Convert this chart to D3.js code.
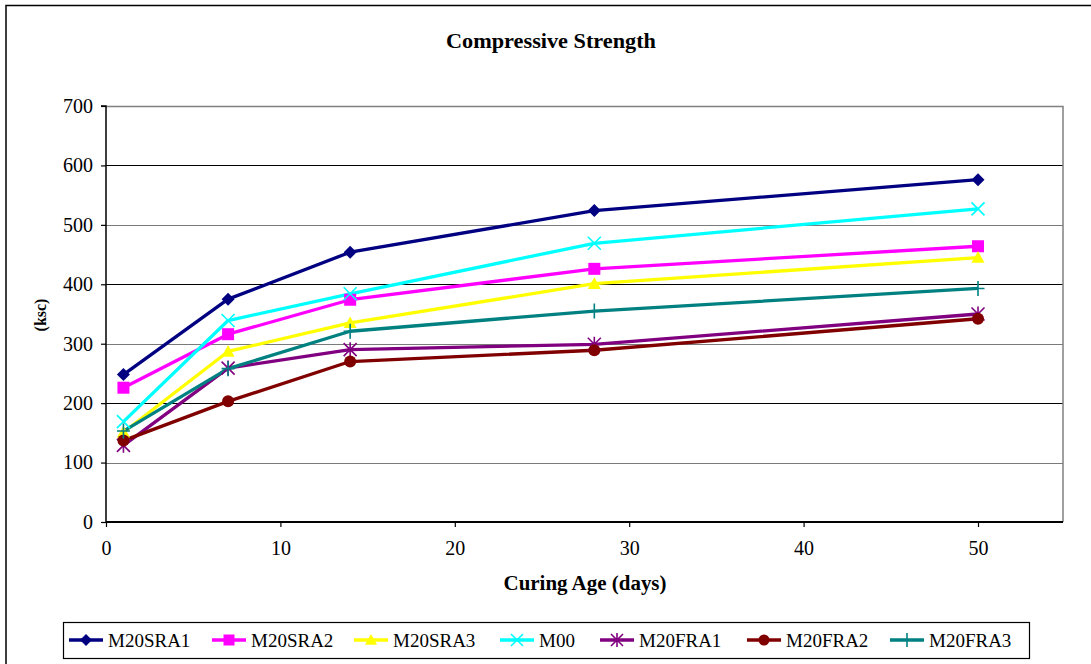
<!DOCTYPE html>
<html>
<head>
<meta charset="utf-8">
<script src="https://cdn.jsdelivr.net/npm/d3@7"></script>
<style>
  html, body { margin: 0; padding: 0; background: #fff; }
  svg { display: block; }
  svg text { font-family: 'Liberation Serif', 'DejaVu Serif', 'Times New Roman', serif; }
</style>
</head>
<body>
<svg id="chart" width="1091" height="664"></svg>
<script>
// Curing ages (days) at which specimens were tested
const ages = [1, 7, 14, 28, 50];

// Compressive strength (ksc) per mix
const seriesNames = ["M20SRA1", "M20SRA2", "M20SRA3", "M00", "M20FRA1", "M20FRA2", "M20FRA3"];
const m20sra1 = [248, 375, 454, 524, 576];
const m20sra2 = [226, 316, 374, 426, 464];
const m20sra3 = [151, 287, 335, 401, 445];
const m00     = [169, 339, 384, 469, 527];
const m20fra1 = [129, 259, 290, 299, 350];
const m20fra2 = [137, 203, 270, 289, 342];
const m20fra3 = [153, 258, 321, 355, 393];

const seriesColors = ["#000080", "#FF00FF", "#FFFF00", "#00FFFF", "#800080", "#800000", "#008080"];
const seriesMarkers = ["diamond", "square", "triangle", "x", "star", "circle", "plus"];

const yTicks = [0, 100, 200, 300, 400, 500, 600, 700];
const xTicks = [0, 10, 20, 30, 40, 50];

const series = [m20sra1, m20sra2, m20sra3, m00, m20fra1, m20fra2, m20fra3].map((vals, i) => ({
  name: seriesNames[i],
  color: seriesColors[i],
  marker: seriesMarkers[i],
  points: vals.map((v, j) => ({ x: ages[j], y: v }))
}));

const svg = d3.select("#chart");

// Outer chart frame
svg.append("path")
  .attr("d", "M6,664 L6,5.5 L1091,5.5")
  .attr("fill", "none").attr("stroke", "#000").attr("stroke-width", 1.5);

const plot = { left: 106, right: 1063, top: 106, bottom: 522 };
const x = d3.scaleLinear().domain([0, 55]).range([plot.left, plot.left + 55 * (978 - 106) / 50]);
const y = d3.scaleLinear().domain([0, 700]).range([plot.bottom, plot.top]);

// Title
svg.append("text")
  .attr("x", 551).attr("y", 48)
  .attr("text-anchor", "middle")
  .attr("font-weight", "bold").attr("font-size", 21)
  .attr("textLength", 210).attr("lengthAdjust", "spacingAndGlyphs")
  .text("Compressive Strength");

// Horizontal gridlines (alternating dark / grey)
svg.append("g").selectAll("line")
  .data(yTicks.filter(t => t > 0 && t < 700))
  .join("line")
  .attr("x1", plot.left).attr("x2", plot.right)
  .attr("y1", d => Math.round(y(d)) + 0.5).attr("y2", d => Math.round(y(d)) + 0.5)
  .attr("stroke", d => (d / 100) % 2 === 0 ? "#000" : "#7a7a7a")
  .attr("stroke-width", 1);

// Plot area top and right border
svg.append("path")
  .attr("d", `M${plot.left},${plot.top + 0.5} L${plot.right},${plot.top + 0.5} L${plot.right},${plot.bottom}`)
  .attr("fill", "none").attr("stroke", "#808080").attr("stroke-width", 1.5);

// Y axis
const yAxis = svg.append("g")
  .attr("transform", `translate(${plot.left},0)`)
  .call(d3.axisLeft(y).tickValues(yTicks).tickSize(5).tickPadding(8).tickFormat(d3.format("d")));
yAxis.attr("font-family", null);
yAxis.select(".domain").attr("stroke", "#000").attr("stroke-width", 1.5).attr("d", `M-5,${plot.top}H0V${plot.bottom}`);
yAxis.selectAll(".tick line").attr("stroke", "#000").attr("stroke-width", 1.2);
yAxis.selectAll(".tick text").attr("font-size", 20).attr("fill", "#000");

// X axis
const xAxis = svg.append("g")
  .attr("transform", `translate(0,${plot.bottom})`)
  .call(d3.axisBottom(x).tickValues(xTicks).tickSize(5).tickPadding(14).tickFormat(d3.format("d")));
xAxis.attr("font-family", null);
xAxis.select(".domain").attr("stroke", "#000").attr("stroke-width", 2).attr("d", `M${plot.left},0H${plot.right}`);
xAxis.selectAll(".tick line").attr("stroke", "#000").attr("stroke-width", 1.2);
xAxis.selectAll(".tick text").attr("font-size", 20).attr("fill", "#000");

// Axis titles
svg.append("text")
  .attr("x", 585).attr("y", 590)
  .attr("text-anchor", "middle")
  .attr("font-weight", "bold").attr("font-size", 20)
  .attr("textLength", 163).attr("lengthAdjust", "spacingAndGlyphs")
  .text("Curing Age (days)");

svg.append("text")
  .attr("transform", "translate(46,315) rotate(-90)")
  .attr("text-anchor", "middle")
  .attr("font-weight", "bold").attr("font-size", 16)
  .text("(ksc)");

// Marker drawing
function drawMarker(g, type, color, s) {
  const h = s / 2;
  switch (type) {
    case "diamond":
      g.append("path").attr("d", `M0,${-h}L${h},0L0,${h}L${-h},0Z`).attr("fill", color);
      break;
    case "square":
      g.append("rect").attr("x", -h + 0.5).attr("y", -h + 0.5).attr("width", s - 1).attr("height", s - 1).attr("fill", color);
      break;
    case "triangle":
      g.append("path").attr("d", `M0,${-h}L${h},${h * 0.8}L${-h},${h * 0.8}Z`).attr("fill", color);
      break;
    case "circle":
      g.append("circle").attr("r", h - 0.5).attr("fill", color);
      break;
    case "x":
      g.append("path").attr("d", `M${-h},${-h}L${h},${h}M${-h},${h}L${h},${-h}`)
        .attr("stroke", color).attr("stroke-width", 1.6);
      break;
    case "star":
      g.append("path").attr("d", `M${-h},${-h}L${h},${h}M${-h},${h}L${h},${-h}M0,${-h - 1}L0,${h + 1}`)
        .attr("stroke", color).attr("stroke-width", 1.6);
      break;
    case "plus":
      g.append("path").attr("d", `M${-h},0L${h},0M0,${-h - 1}L0,${h + 1}`)
        .attr("stroke", color).attr("stroke-width", 1.6);
      break;
  }
}

// Series lines and markers
const line = d3.line().x(d => x(d.x)).y(d => y(d.y));
const gSeries = svg.append("g");
series.forEach(s => {
  gSeries.append("path")
    .datum(s.points)
    .attr("d", line)
    .attr("fill", "none")
    .attr("stroke", s.color)
    .attr("stroke-width", 3.3)
    .attr("stroke-linejoin", "round");
});
series.forEach(s => {
  s.points.forEach(p => {
    const g = gSeries.append("g").attr("transform", `translate(${x(p.x)},${y(p.y)})`);
    drawMarker(g, s.marker, s.color, 13);
  });
});

// Legend
const legend = svg.append("g");
legend.append("rect")
  .attr("x", 63.5).attr("y", 622.5).attr("width", 966).attr("height", 36)
  .attr("fill", "#fff").attr("stroke", "#000").attr("stroke-width", 1.2);
const legendX = [69, 212, 354, 500, 600, 747, 890];
series.forEach((s, i) => {
  const g = legend.append("g").attr("transform", `translate(${legendX[i]},640)`);
  g.append("line").attr("x1", 0).attr("x2", 34).attr("y1", 0).attr("y2", 0)
    .attr("stroke", s.color).attr("stroke-width", 3.3);
  const m = g.append("g").attr("transform", "translate(17,0)");
  drawMarker(m, s.marker, s.color, 12);
  g.append("text").attr("x", 39).attr("y", 7)
    .attr("font-size", 19).attr("fill", "#000")
    .text(s.name);
});
</script>
</body>
</html>
